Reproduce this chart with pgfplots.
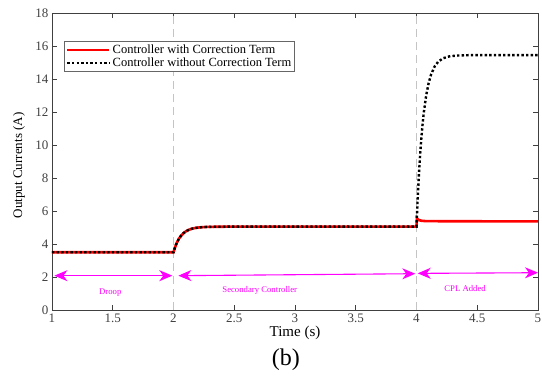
\documentclass[border=0pt]{standalone}
\usepackage{fontspec}
\setmainfont{Liberation Serif}
\usepackage{pgfplots}
\pgfplotsset{compat=1.18}
\usetikzlibrary{arrows.meta}
\definecolor{axgray}{HTML}{404040}
\definecolor{mag}{HTML}{FF00FF}
\definecolor{dashgray}{HTML}{C4C4C4}
\begin{document}
\begin{tikzpicture}
\useasboundingbox (-52pt,-68pt) rectangle (490pt,310pt);
\begin{axis}[
  at={(0pt,0pt)}, anchor=south west,
  scale only axis, width=486pt, height=297pt,
  xmin=1, xmax=5, ymin=0, ymax=18,
  xtick={1,1.5,...,5}, ytick={0,2,...,18},
  xticklabels={1,1.5,2,2.5,3,3.5,4,4.5,5},
  tick align=inside, major tick length=5pt,
  axis line style={axgray, line width=0.8pt},
  tick style={axgray, line width=0.8pt},
  ticklabel style={font=\fontsize{13}{15}\selectfont, text=axgray},
  /pgf/number format/assume math mode=true,
  xlabel={Time (s)}, ylabel={Output Currents (A)},
  xlabel style={font=\fontsize{15}{17}\selectfont, at={(axis description cs:0.5,-0.077)}, anchor=center},
  ylabel style={font=\fontsize{13}{15}\selectfont, at={(axis description cs:-0.068,0.487)}, anchor=center, rotate=0},
  clip=false,
  legend cell align=left,
  legend style={at={(axis description cs:0.025,0.906)}, anchor=north west,
    draw=axgray!80, line width=1pt, font=\fontsize{12.5}{13.5}\selectfont,
    inner sep=1.5pt, row sep=-1pt},
  legend image code/.code={\draw[#1] (0pt,0pt) -- (42pt,0pt);},
]
\draw[dashgray, line width=1.6pt, dash pattern=on 8pt off 5pt] (axis cs:2,0) -- (axis cs:2,18);
\draw[dashgray, line width=1.6pt, dash pattern=on 8pt off 5pt] (axis cs:4,0) -- (axis cs:4,18);

\addplot[red, line width=2.6pt] coordinates {
(1,3.5) (2,3.5) (2.01,3.738) (2.02,3.939) (2.03,4.110) (2.04,4.254) (2.05,4.376) (2.06,4.480)
(2.08,4.641) (2.10,4.757) (2.12,4.840) (2.15,4.923) (2.18,4.973) (2.22,5.011) (2.27,5.033)
(2.35,5.045) (2.45,5.05) (4.0,5.05) (4.003,5.55) (4.01,5.5) (4.02,5.45) (4.04,5.41) (4.07,5.39)
(4.2,5.38) (5.0,5.37)
};
\addlegendentry{Controller with Correction Term}
\addplot[black, line width=2.4pt, dash pattern=on 2.4pt off 2.2pt] coordinates {
(1,3.5) (2,3.5) (2.01,3.738) (2.02,3.939) (2.03,4.110) (2.04,4.254) (2.05,4.376) (2.06,4.480)
(2.08,4.641) (2.10,4.757) (2.12,4.840) (2.15,4.923) (2.18,4.973) (2.22,5.011) (2.27,5.033)
(2.35,5.045) (2.45,5.05) (4.0,5.05) (4.005,5.95) (4.01,6.78) (4.02,8.22) (4.03,9.42) (4.04,10.42)
(4.05,11.26) (4.06,11.96) (4.08,13.02) (4.10,13.76) (4.12,14.27) (4.15,14.77) (4.18,15.06)
(4.22,15.26) (4.27,15.37) (4.33,15.42) (4.40,15.44) (4.5,15.45) (5.0,15.45)
};
\addlegendentry{Controller without Correction Term}

\draw[mag, line width=1.1pt, {Stealth[length=13pt,width=11pt,inset=4pt]}-{Stealth[length=13pt,width=11pt,inset=4pt]}]
  (axis cs:1.02,2.08) -- (axis cs:1.99,2.08);
\draw[mag, line width=1.1pt, {Stealth[length=13pt,width=11pt,inset=4pt]}-{Stealth[length=13pt,width=11pt,inset=4pt]}]
  (axis cs:2.04,2.08) -- (axis cs:3.99,2.2);
\draw[mag, line width=1.1pt, {Stealth[length=13pt,width=11pt,inset=4pt]}-{Stealth[length=13pt,width=11pt,inset=4pt]}]
  (axis cs:4.01,2.22) -- (axis cs:5.0,2.26);
\node[mag, font=\fontsize{8.7}{9.5}\selectfont] at (axis cs:1.48,1.07) {Droop};
\node[mag, font=\fontsize{8.7}{9.5}\selectfont] at (axis cs:2.71,1.21) {Secondary Controller};
\node[mag, font=\fontsize{8.7}{9.5}\selectfont] at (axis cs:4.40,1.30) {CPL Added};
\node[font=\fontsize{24}{26}\selectfont] at (axis description cs:0.481,-0.168) {(b)};
\end{axis}
\end{tikzpicture}
\end{document}
